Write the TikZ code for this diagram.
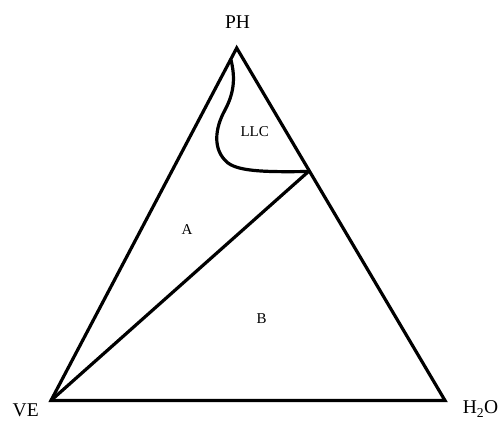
\documentclass[tikz,border=0pt]{standalone}
\usepackage{fontspec}
\setmainfont{Liberation Serif}
\tikzset{
  edge/.style={line width=3.2pt, line join=miter, line cap=round},
  big/.style={font=\fontsize{19.5}{22}\selectfont, inner sep=0pt},
  small/.style={font=\fontsize{15}{18}\selectfont, inner sep=0pt}
}
\begin{document}
\begin{tikzpicture}[x=1pt,y=-1pt]
\useasboundingbox (0,0) rectangle (500,420);
\coordinate (ph) at (236.7,48);
\coordinate (ve) at (51,400.5);
\coordinate (w) at (445,400.5);
\coordinate (m) at (308.5,171.5);
\coordinate (s) at (231,60);
\draw[edge] (ph) -- (ve) -- (w) -- cycle;
\draw[edge] (ve) -- (m);
\draw[edge] (s) .. controls (236,80) and (233,95) .. (225,110)
  .. controls (215,128) and (212,150) .. (228,163)
  .. controls (240,172) and (270,172) .. (m);
\node[big] (lph) at (237.5,21.7) {PH};
\node[big] (lve) at (25.7,410) {VE};
\node[big, anchor=east] (lw) at (498.5,409) {H\textsubscript{2}O};
\node[small] (lllc) at (254.7,131.7) {LLC};
\node[small] (la) at (187,229.3) {A};
\node[small] (lb) at (261.7,319) {B};
\end{tikzpicture}
\end{document}
